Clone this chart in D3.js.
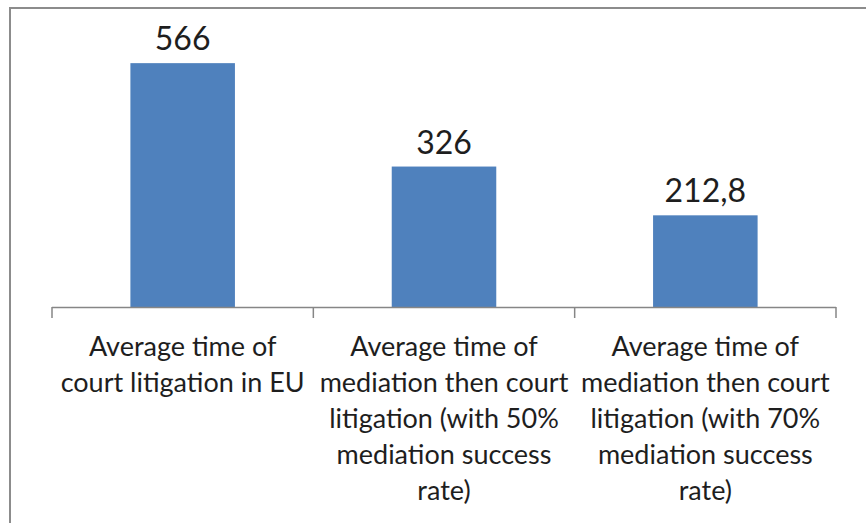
<!DOCTYPE html>
<html>
<head>
<meta charset="utf-8">
<script src="https://cdn.jsdelivr.net/npm/d3@7"></script>
<style>
  body { margin: 0; background: #fff; }
  text { font-family: Lato, "Open Sans", sans-serif; fill: #1e1e1e; }
</style>
</head>
<body>
<script>
// chart values
var categories = ["c1", "c2", "c3"];
var valores = [566, 326, 212.8];
var etiquetas = ["566", "326", "212,8"];
var lineasCategoria = [
  ["Average time of", "court litigation in EU"],
  ["Average time of", "mediation then court", "litigation (with 50%", "mediation success", "rate)"],
  ["Average time of", "mediation then court", "litigation (with 70%", "mediation success", "rate)"]
];

var W = 866, H = 523;
var svg = d3.select("body").append("svg")
  .attr("width", W)
  .attr("height", H);

// chart frame (right and bottom run off the picture)
svg.append("rect")
  .attr("x", 10).attr("y", 8)
  .attr("width", W + 20).attr("height", H + 20)
  .attr("fill", "none")
  .attr("stroke", "#8c8c8c")
  .attr("stroke-width", 2);

var x = d3.scaleBand()
  .domain(categories)
  .range([52, 836])
  .paddingInner(0.6)
  .paddingOuter(0.3);

var y = d3.scaleLinear()
  .domain([0, 600])
  .range([307, 48.5]);

// bars
svg.selectAll(".bar")
  .data(valores)
  .enter().append("rect")
  .attr("class", "bar")
  .attr("x", function(d, i) { return x(categories[i]); })
  .attr("y", function(d) { return y(d); })
  .attr("width", x.bandwidth())
  .attr("height", function(d) { return y(0) - y(d); })
  .attr("fill", "#4f81bd");

// value labels
svg.selectAll(".valor")
  .data(valores)
  .enter().append("text")
  .attr("class", "valor")
  .attr("x", function(d, i) { return x(categories[i]) + x.bandwidth() / 2; })
  .attr("y", function(d) { return y(d) - 13; })
  .attr("text-anchor", "middle")
  .style("font-size", "32px")
  .text(function(d, i) { return etiquetas[i]; });

// category axis, ticks sit between the categories
var ejeX = svg.append("g");
ejeX.append("line")
  .attr("x1", 52).attr("x2", 836)
  .attr("y1", 307.5).attr("y2", 307.5)
  .attr("stroke", "#868686")
  .attr("stroke-width", 1.5);

var bordes = categories.map(function(c) { return x(c) - x.step() * x.paddingInner() / 2 - (x.step() - x.bandwidth()) / 2 + x.step() * x.paddingInner() / 2; })
  .concat([836]);
ejeX.selectAll(".tick")
  .data(bordes)
  .enter().append("line")
  .attr("x1", function(d) { return d; })
  .attr("x2", function(d) { return d; })
  .attr("y1", 307).attr("y2", 318)
  .attr("stroke", "#868686")
  .attr("stroke-width", 1.5);

// category labels
lineasCategoria.forEach(function(lineas, i) {
  var t = svg.append("text")
    .attr("text-anchor", "middle")
    .style("font-size", "27px");
  lineas.forEach(function(l, j) {
    t.append("tspan")
      .attr("x", x(categories[i]) + x.bandwidth() / 2)
      .attr("y", 356 + j * 36)
      .text(l);
  });
});
</script>
</body>
</html>
